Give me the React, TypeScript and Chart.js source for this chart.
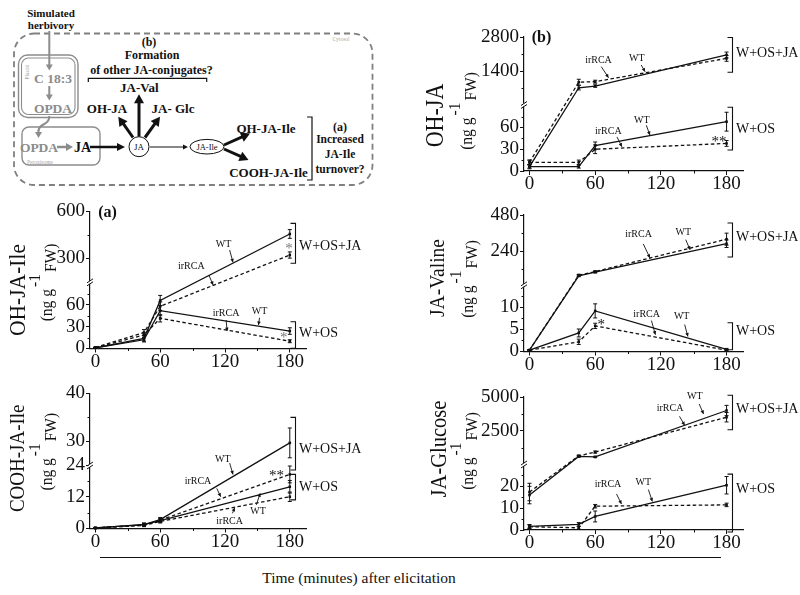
import React, { useEffect, useRef } from 'react';
import { Chart, registerables, LinearScale } from 'chart.js';

Chart.register(...registerables);

// ---------- DATA ----------
const TIMES = [0, 45, 60, 180];
const X_TICKS = [0, 60, 120, 180];
const X_MINOR = [30, 90, 150];

// OH-JA
const OHJA_WOSJA_WT = [6, 710, 780, 2060];
const OHJA_WOSJA_WT_ERR = [3, 90, 50, 120];
const OHJA_WOSJA_IR = [12, 940, 960, 1920];
const OHJA_WOSJA_IR_ERR = [3, 120, 60, 120];
const OHJA_WOS_WT = [6, 6, 35, 68];
const OHJA_WOS_WT_ERR = [2, 2, 5, 13];
const OHJA_WOS_IR = [12, 12, 30, 38];
const OHJA_WOS_IR_ERR = [3, 3, 6, 4];
const OHJA_LOW_TICKS = [0, 30, 60];
const OHJA_HIGH_TICKS = [1400, 2800];

// OH-JA-Ile
const OHJAILE_WOSJA_WT = [1, 14, 66, 456];
const OHJAILE_WOSJA_WT_ERR = [0.5, 4, 7, 28];
const OHJAILE_WOSJA_IR = [1.5, 22, 58, 321];
const OHJAILE_WOSJA_IR_ERR = [0.5, 4, 6, 20];
const OHJAILE_WOS_WT = [1, 12, 52, 24];
const OHJAILE_WOS_WT_ERR = [0.5, 3, 7, 4.5];
const OHJAILE_WOS_IR = [1, 18.6, 41.5, 10];
const OHJAILE_WOS_IR_ERR = [0.5, 3, 5, 2];
const OHJAILE_LOW_TICKS = [0, 30, 60];
const OHJAILE_HIGH_TICKS = [300, 600];

// JA-Valine
const JAVAL_WOSJA_WT = [0.3, 78, 102, 290];
const JAVAL_WOSJA_WT_ERR = [0.1, 6, 5, 25];
const JAVAL_WOSJA_IR = [0.3, 82, 106, 320];
const JAVAL_WOSJA_IR_ERR = [0.1, 6, 5, 40];
const JAVAL_WOS_WT = [0.3, 4.2, 9.2, 0.5];
const JAVAL_WOS_WT_ERR = [0.15, 0.9, 1.6, 0.2];
const JAVAL_WOS_IR = [0.3, 2.2, 5.8, 0.3];
const JAVAL_WOS_IR_ERR = [0.15, 0.6, 0.6, 0.15];
const JAVAL_LOW_TICKS = [0, 5, 10];
const JAVAL_HIGH_TICKS = [240, 480];

// COOH-JA-Ile
const COOH_WOSJA_WT = [0.2, 1.5, 3.4, 29.7];
const COOH_WOSJA_WT_ERR = [0.2, 0.6, 0.8, 3.1];
const COOH_WOSJA_IR = [0.2, 1.3, 3.2, 20.6];
const COOH_WOSJA_IR_ERR = [0.2, 0.5, 0.7, 3.2];
const COOH_WOS_WT = [0.2, 1.5, 3.0, 15.9];
const COOH_WOS_WT_ERR = [0.2, 0.5, 0.6, 2.4];
const COOH_WOS_IR = [0.2, 1.2, 2.7, 12.1];
const COOH_WOS_IR_ERR = [0.2, 0.5, 0.6, 1.8];
const COOH_LOW_TICKS = [0, 12, 24];
const COOH_HIGH_TICKS = [30, 40];

// JA-Glucose
const JAGLC_WOSJA_WT = [16, 600, 560, 4000];
const JAGLC_WOSJA_WT_ERR = [4, 60, 50, 380];
const JAGLC_WOSJA_IR = [17.4, 640, 920, 3500];
const JAGLC_WOSJA_IR_ERR = [4, 60, 80, 350];
const JAGLC_WOS_WT = [1.7, 2.6, 6.2, 20.5];
const JAGLC_WOS_WT_ERR = [0.8, 0.8, 2.5, 4];
const JAGLC_WOS_IR = [1.5, 1.0, 10.9, 11.5];
const JAGLC_WOS_IR_ERR = [0.8, 0.6, 0.8, 0.8];
const JAGLC_LOW_TICKS = [0, 10, 20];
const JAGLC_HIGH_TICKS = [2500, 5000];

// ---------- STYLE ----------
const SERIF = "'Liberation Serif', 'Times New Roman', serif";
const INK = '#111';

// ---------- Broken (two-segment) linear scale ----------
class BrokenScale extends (LinearScale as any) {
  static id = 'broken';
  static defaults = {};
  buildTicks() {
    const b = (this as any).options.brk;
    return [...b.lowTicks, ...b.highTicks].map((v: number) => ({ value: v }));
  }
  brkPixel() {
    const self = this as any;
    const b = self.options.brk;
    return self.bottom - (self.bottom - self.top) * b.frac;
  }
  getPixelForValue(value: number) {
    if (value === null || value === undefined || Number.isNaN(value)) return NaN;
    const self = this as any;
    const b = self.options.brk;
    const bp = this.brkPixel();
    if (value <= b.lowMax) return self.bottom - (value / b.lowMax) * (self.bottom - bp);
    return bp - ((value - b.highMin) / (b.highMax - b.highMin)) * (bp - self.top);
  }
  getValueForPixel(pixel: number) {
    const self = this as any;
    const b = self.options.brk;
    const bp = this.brkPixel();
    if (pixel >= bp) return ((self.bottom - pixel) / (self.bottom - bp)) * b.lowMax;
    return b.highMin + ((bp - pixel) / (bp - self.top)) * (b.highMax - b.highMin);
  }
}
Chart.register(BrokenScale as any);

type Series = { vals: number[]; errs: number[]; dashed: boolean };
type Panel = any;

const S = (vals: number[], errs: number[], dashed: boolean): Series => ({ vals, errs, dashed });

const PANELS: Panel[] = [
  {
    key: 'ohja',
    canvas: { left: 400, top: 0, w: 400, h: 195 },
    area: { l: 124, r: 343, t: 37, b: 171 },
    brk: { lowMax: 91, highMin: 0, highMax: 2800, frac: 0.4925, lowTicks: OHJA_LOW_TICKS, highTicks: OHJA_HIGH_TICKS },
    minorY: [15, 45, 75, 700, 2100],
    series: [
      S(OHJA_WOSJA_WT, OHJA_WOSJA_WT_ERR, false),
      S(OHJA_WOSJA_IR, OHJA_WOSJA_IR_ERR, true),
      S(OHJA_WOS_WT, OHJA_WOS_WT_ERR, false),
      S(OHJA_WOS_IR, OHJA_WOS_IR_ERR, true),
    ],
    title: 'OH-JA', titleSize: 22, titleX: 37, titleY: 115.5, subX: 67, subY: 111,
    letter: '(b)',
    texts: [
      { x: 63, y: 1853, t: 'irRCA' }, { x: 98, y: 1923, t: 'WT' },
      { x: 102.6, y: 70, t: 'WT' }, { x: 72, y: 54, t: 'irRCA' },
      { x: 173, y: 45, t: '**', size: 15 },
    ],
    arrows: [[65.6, 1577, 72.2, 1124], [102, 1647, 105.6, 1371], [106.7, 63, 110, 49.6], [79.9, 47, 84.4, 33.5]],
    brackets: [{ y1: 2780, y2: 1350, label: 'W+OS+JA', ly: 2130 }, { y1: 88, y2: 29, label: 'W+OS', ly: 57 }],
  },
  {
    key: 'ohjaile',
    canvas: { left: 0, top: 190, w: 400, h: 185 },
    area: { l: 90, r: 306, t: 21.5, b: 158.5 },
    brk: { lowMax: 91, highMin: 146, highMax: 600, frac: 0.483, lowTicks: OHJAILE_LOW_TICKS, highTicks: OHJAILE_HIGH_TICKS },
    minorY: [15, 45, 75, 450],
    series: [
      S(OHJAILE_WOSJA_WT, OHJAILE_WOSJA_WT_ERR, false),
      S(OHJAILE_WOSJA_IR, OHJAILE_WOSJA_IR_ERR, true),
      S(OHJAILE_WOS_WT, OHJAILE_WOS_WT_ERR, false),
      S(OHJAILE_WOS_IR, OHJAILE_WOS_IR_ERR, true),
    ],
    title: 'OH-JA-Ile', titleSize: 21.5, titleX: 18.3, titleY: 100, subX: 47, subY: 92.5,
    letter: '(a)',
    texts: [
      { x: 118.7, y: 390, t: 'WT' }, { x: 88.8, y: 246, t: 'irRCA' },
      { x: 121, y: 48.4, t: 'irRCA' }, { x: 152, y: 50.6, t: 'WT' },
      { x: 179.3, y: 381, t: '*', size: 15, color: '#777' },
      { x: 174.4, y: 18.6, t: '*', size: 15, color: '#777' },
    ],
    arrows: [[124.3, 353, 127.4, 274], [105, 193, 109, 129], [121, 39.2, 122, 24], [152, 42.3, 151, 32.3]],
    brackets: [{ y1: 524, y2: 268, label: 'W+OS+JA', ly: 374 }, { y1: 36.8, y2: 0.3, label: 'W+OS', ly: 20.9 }],
  },
  {
    key: 'javal',
    canvas: { left: 400, top: 190, w: 400, h: 185 },
    area: { l: 124, r: 343, t: 25, b: 161.5 },
    brk: { lowMax: 15, highMin: 15, highMax: 480, frac: 0.485, lowTicks: JAVAL_LOW_TICKS, highTicks: JAVAL_HIGH_TICKS },
    minorY: [2.5, 7.5, 12.5, 120, 360],
    series: [
      S(JAVAL_WOSJA_WT, JAVAL_WOSJA_WT_ERR, false),
      S(JAVAL_WOSJA_IR, JAVAL_WOSJA_IR_ERR, true),
      S(JAVAL_WOS_WT, JAVAL_WOS_WT_ERR, false),
      S(JAVAL_WOS_IR, JAVAL_WOS_IR_ERR, true),
    ],
    title: 'JA-Valine', titleSize: 19.5, titleX: 38.3, titleY: 88, subX: 68, subY: 89,
    texts: [
      { x: 99.6, y: 350, t: 'irRCA' }, { x: 140.5, y: 367, t: 'WT' },
      { x: 107, y: 8.5, t: 'irRCA' }, { x: 139, y: 8.0, t: 'WT' },
      { x: 65.6, y: 6.8, t: '*', size: 15 },
    ],
    arrows: [[104, 288, 110, 196], [142.7, 317, 146.6, 250], [111.4, 7.0, 115, 3.8], [141.7, 6.1, 144.7, 3.4]],
    brackets: [{ y1: 427, y2: 202, label: 'W+OS+JA', ly: 332 }, { y1: 6.5, y2: 0.4, label: 'W+OS', ly: 4.6 }],
  },
  {
    key: 'cooh',
    canvas: { left: 0, top: 375, w: 400, h: 180 },
    area: { l: 90, r: 306, t: 18.3, b: 153.5 },
    brk: { lowMax: 24, highMin: 25, highMax: 40, frac: 0.466, lowTicks: COOH_LOW_TICKS, highTicks: COOH_HIGH_TICKS },
    minorY: [6, 18, 35],
    series: [
      S(COOH_WOSJA_WT, COOH_WOSJA_WT_ERR, false),
      S(COOH_WOSJA_IR, COOH_WOSJA_IR_ERR, true),
      S(COOH_WOS_WT, COOH_WOS_WT_ERR, false),
      S(COOH_WOS_IR, COOH_WOS_IR_ERR, true),
    ],
    title: 'COOH-JA-Ile', titleSize: 19, titleX: 18.3, titleY: 83.3, subX: 47, subY: 76.7,
    texts: [
      { x: 118, y: 26.35, t: 'WT' }, { x: 95, y: 17.8, t: 'irRCA' },
      { x: 150.6, y: 6.4, t: 'WT' }, { x: 124.3, y: 2.9, t: 'irRCA' },
      { x: 167.6, y: 21.4, t: '**', size: 15 },
    ],
    arrows: [[124.3, 25.5, 127.4, 20.6], [112.4, 15.3, 116, 12.1], [149, 9.0, 152.6, 13.4], [126.9, 5.8, 129, 7.9]],
    brackets: [{ y1: 35, y2: 22.3, label: 'W+OS+JA', ly: 28.4 }, { y1: 20.6, y2: 10.9, label: 'W+OS', ly: 15.6 }],
  },
  {
    key: 'jaglc',
    canvas: { left: 400, top: 375, w: 400, h: 180 },
    area: { l: 124, r: 343, t: 22, b: 155 },
    brk: { lowMax: 30, highMin: 0, highMax: 5000, frac: 0.4925, lowTicks: JAGLC_LOW_TICKS, highTicks: JAGLC_HIGH_TICKS },
    minorY: [5, 15, 25, 1250, 3750],
    series: [
      S(JAGLC_WOSJA_WT, JAGLC_WOSJA_WT_ERR, false),
      S(JAGLC_WOSJA_IR, JAGLC_WOSJA_IR_ERR, true),
      S(JAGLC_WOS_WT, JAGLC_WOS_WT_ERR, false),
      S(JAGLC_WOS_IR, JAGLC_WOS_IR_ERR, true),
    ],
    title: 'JA-Glucose', titleSize: 20.5, titleX: 40, titleY: 74, subX: 68, subY: 76,
    texts: [
      { x: 128.4, y: 4185, t: 'irRCA' }, { x: 151, y: 5052, t: 'WT' },
      { x: 71.7, y: 20.8, t: 'irRCA' }, { x: 104, y: 22, t: 'WT' },
    ],
    arrows: [[137, 3570, 141.7, 2904], [155, 4481, 159, 3741], [79.5, 16.5, 84, 11.9], [108.6, 18.5, 112.2, 13.1]],
    brackets: [{ y1: 5126, y2: 2578, label: 'W+OS+JA', ly: 4059 }, { y1: 25.6, y2: -0.9, label: 'W+OS', ly: 18.5 }],
  },
];

// ---------- drawing helpers ----------
function arrowHead(ctx: CanvasRenderingContext2D, x1: number, y1: number, x2: number, y2: number, len: number, half: number) {
  const dx = x2 - x1, dy = y2 - y1, L = Math.hypot(dx, dy) || 1;
  const ux = dx / L, uy = dy / L, px = -uy, py = ux;
  const bx = x2 - ux * len, by = y2 - uy * len;
  ctx.beginPath();
  ctx.moveTo(x2, y2);
  ctx.lineTo(bx + px * half, by + py * half);
  ctx.lineTo(bx - px * half, by - py * half);
  ctx.closePath();
  ctx.fill();
}

// rotated unit label "(ng g -1 FW)"; offsets given directly in page x (negative = further left)
function drawSub(ctx: CanvasRenderingContext2D, cx: number, cy: number, size: number) {
  ctx.save();
  ctx.font = `${size}px ${SERIF}`;
  ctx.fillStyle = INK;
  ctx.textAlign = 'center';
  ctx.textBaseline = 'middle';
  const segs: [string, number][] = [['(ng g', 0], ['-1', -12], ['FW)', 4]];
  const gap = 2;
  const widths = segs.map((s) => ctx.measureText(s[0]).width);
  const total = widths.reduce((a, b) => a + b, 0) + gap * (segs.length - 1);
  let yb = cy + total / 2;
  segs.forEach((s, i) => {
    const yc = yb - widths[i] / 2;
    ctx.save();
    ctx.translate(cx + s[1], yc);
    ctx.rotate(-Math.PI / 2);
    ctx.scale(1, 1.12);
    ctx.fillText(s[0], 0, 0);
    ctx.restore();
    yb -= widths[i] + gap;
  });
  ctx.restore();
}

function makeDecor(p: Panel) {
  return {
    id: 'decor_' + p.key,
    afterDatasetsDraw(chart: any) {
      const ctx: CanvasRenderingContext2D = chart.ctx;
      const xs = chart.scales.x, ys = chart.scales.y;
      ctx.save();
      ctx.strokeStyle = INK;
      ctx.lineWidth = 1;
      p.series.forEach((s: Series) => {
        TIMES.forEach((t, i) => {
          const v = s.vals[i], e = s.errs[i];
          if (v == null || !e) return;
          const px = xs.getPixelForValue(t);
          const y1 = ys.getPixelForValue(v - e), y2 = ys.getPixelForValue(v + e);
          ctx.beginPath();
          ctx.moveTo(px, y1); ctx.lineTo(px, y2);
          ctx.moveTo(px - 2, y1); ctx.lineTo(px + 2, y1);
          ctx.moveTo(px - 2, y2); ctx.lineTo(px + 2, y2);
          ctx.stroke();
        });
      });
      ctx.restore();
    },
    afterDraw(chart: any) {
      const ctx: CanvasRenderingContext2D = chart.ctx;
      const xs = chart.scales.x, ys = chart.scales.y;
      const ca = chart.chartArea;
      ctx.save();
      ctx.strokeStyle = INK;
      ctx.fillStyle = INK;
      ctx.lineWidth = 1;
      // minor ticks
      ctx.beginPath();
      X_MINOR.forEach((t) => {
        const px = Math.round(xs.getPixelForValue(t)) + 0.5;
        ctx.moveTo(px, ca.bottom); ctx.lineTo(px, ca.bottom + 2.5);
      });
      p.minorY.forEach((v: number) => {
        const py = Math.round(ys.getPixelForValue(v)) + 0.5;
        ctx.moveTo(ca.left, py); ctx.lineTo(ca.left - 2.5, py);
      });
      ctx.stroke();
      // axis break mark
      const by = ys.getPixelForValue(p.brk.lowMax);
      ctx.fillStyle = '#fff';
      ctx.fillRect(ca.left - 1.5, by - 1.5, 3, 3);
      ctx.beginPath();
      ctx.moveTo(ca.left - 3, by + 0.5); ctx.lineTo(ca.left + 3, by - 3.5);
      ctx.moveTo(ca.left - 3, by + 3.5); ctx.lineTo(ca.left + 3, by - 0.5);
      ctx.stroke();
      ctx.fillStyle = INK;
      // y titles
      ctx.save();
      ctx.translate(p.titleX, p.titleY);
      ctx.rotate(-Math.PI / 2);
      ctx.scale(1, 1.12);
      ctx.font = `${p.titleSize}px ${SERIF}`;
      ctx.textAlign = 'center';
      ctx.textBaseline = 'middle';
      ctx.fillText(p.title, 0, 0);
      ctx.restore();
      drawSub(ctx, p.subX, p.subY, 15.5);
      // panel letter
      if (p.letter) {
        ctx.font = `bold 16px ${SERIF}`;
        ctx.textAlign = 'center';
        ctx.textBaseline = 'middle';
        ctx.fillText(p.letter, ca.left + 17.5, ca.top + 1);
      }
      // labels
      p.texts.forEach((tx: any) => {
        const size = tx.size || 10;
        ctx.font = `${size}px ${SERIF}`;
        ctx.textAlign = 'center';
        ctx.textBaseline = 'middle';
        ctx.fillStyle = tx.color || INK;
        const off = tx.t.includes('*') ? size * 0.22 : 0;
        ctx.fillText(tx.t, xs.getPixelForValue(tx.x), ys.getPixelForValue(tx.y) + off);
      });
      ctx.fillStyle = INK;
      // arrows
      ctx.lineWidth = 0.9;
      p.arrows.forEach((a: number[]) => {
        const x1 = xs.getPixelForValue(a[0]), y1 = ys.getPixelForValue(a[1]);
        const x2 = xs.getPixelForValue(a[2]), y2 = ys.getPixelForValue(a[3]);
        ctx.beginPath(); ctx.moveTo(x1, y1); ctx.lineTo(x2, y2); ctx.stroke();
        arrowHead(ctx, x1, y1, x2, y2, 3.5, 1.8);
      });
      // brackets
      ctx.lineWidth = 1.1;
      p.brackets.forEach((b: any) => {
        const bx = Math.round(xs.getPixelForValue(185)) + 0.5;
        const y1 = ys.getPixelForValue(b.y1), y2 = ys.getPixelForValue(b.y2);
        ctx.beginPath();
        ctx.moveTo(bx - 5, y1); ctx.lineTo(bx, y1); ctx.lineTo(bx, y2); ctx.lineTo(bx - 5, y2);
        ctx.stroke();
        ctx.font = `14px ${SERIF}`;
        ctx.textAlign = 'left';
        ctx.textBaseline = 'middle';
        ctx.fillText(b.label, bx + 3.5, ys.getPixelForValue(b.ly));
      });
      ctx.restore();
    },
  };
}

function buildConfig(p: Panel): any {
  const { w, h } = p.canvas;
  const a = p.area;
  const axisFont = { family: SERIF, size: 19 };
  const grid = { display: true, drawOnChartArea: false, drawTicks: true, tickLength: 4, color: INK, lineWidth: 1 };
  const border = { display: true, color: INK, width: 1.2 };
  return {
    type: 'line',
    data: {
      datasets: p.series.map((s: Series) => ({
        data: TIMES.map((t, i) => ({ x: t, y: s.vals[i] })),
        borderColor: INK,
        borderWidth: 1.3,
        borderDash: s.dashed ? [3.5, 2.5] : [],
        pointRadius: 1.8,
        pointStyle: 'rect',
        pointBackgroundColor: INK,
        pointBorderWidth: 0,
        fill: false,
        tension: 0,
        clip: false,
      })),
    },
    options: {
      responsive: false,
      animation: false,
      devicePixelRatio: 1,
      events: [],
      layout: { padding: { left: 0, top: a.t, right: w - a.r, bottom: 0 } },
      plugins: { legend: { display: false }, tooltip: { enabled: false }, title: { display: false } },
      scales: {
        x: {
          type: 'linear',
          min: -5,
          max: 195,
          afterBuildTicks: (s: any) => { s.ticks = X_TICKS.map((v) => ({ value: v })); },
          afterFit: (s: any) => { s.height = h - a.b; },
          grid,
          border,
          ticks: { autoSkip: false, maxRotation: 0, padding: -2, color: INK, font: axisFont, callback: (v: any) => String(v) },
        },
        y: {
          type: 'broken',
          min: 0,
          max: p.brk.highMax,
          brk: p.brk,
          afterFit: (s: any) => { s.width = a.l; },
          grid,
          border,
          ticks: { autoSkip: false, padding: 1, color: INK, font: axisFont, callback: (v: any) => String(v) },
        },
      },
    },
    plugins: [makeDecor(p)],
  };
}

function PanelChart({ p }: { p: Panel }) {
  const ref = useRef<HTMLCanvasElement>(null);
  useEffect(() => {
    const chart = new Chart(ref.current as HTMLCanvasElement, buildConfig(p));
    return () => chart.destroy();
  }, [p]);
  return (
    <canvas
      ref={ref}
      width={p.canvas.w}
      height={p.canvas.h}
      style={{ position: 'absolute', left: p.canvas.left, top: p.canvas.top, width: p.canvas.w, height: p.canvas.h }}
    />
  );
}

// ---------- schematic ----------
function Arrow({ x1, y1, x2, y2, w = 2.5, color = INK, hl = 8, hw = 4.5 }: any) {
  const dx = x2 - x1, dy = y2 - y1, L = Math.hypot(dx, dy);
  const ux = dx / L, uy = dy / L, px = -uy, py = ux;
  const bx = x2 - ux * hl, by = y2 - uy * hl;
  return (
    <g>
      <line x1={x1} y1={y1} x2={bx + ux} y2={by + uy} stroke={color} strokeWidth={w} />
      <polygon points={`${x2},${y2} ${bx + px * hw},${by + py * hw} ${bx - px * hw},${by - py * hw}`} fill={color} />
    </g>
  );
}

function T({ x, y, s, children, fill = INK, bold = true, anchor = 'middle' }: any) {
  return (
    <text x={x} y={y} fontSize={s} fill={fill} fontFamily={SERIF} fontWeight={bold ? 700 : 400} textAnchor={anchor} dominantBaseline="central">
      {children}
    </text>
  );
}

function Figure() {
  const G = '#8c8c8c';
  const LG = '#a8a8a8';
  return (
    <svg width={800} height={595} style={{ position: 'absolute', left: 0, top: 0 }}>
      <T x={51} y={12.7} s={11}>Simulated</T>
      <T x={51} y={25} s={11}>herbivory</T>
      <rect x={14} y={33.5} width={358.5} height={151.5} rx={20} fill="none" stroke="#808080" strokeWidth={1.8} strokeDasharray="6 4" />
      <T x={341} y={39} s={5.5} fill={LG} bold={false}>Cytosol</T>
      {/* plastid */}
      <rect x={18.5} y={55} width={59.5} height={62.5} rx={9} fill="none" stroke={G} strokeWidth={1.4} />
      <rect x={21.5} y={58} width={53.5} height={56.5} rx={7} fill="none" stroke={G} strokeWidth={1.1} />
      <text transform="translate(26.5,72) rotate(-90)" fontSize={5.5} fill={LG} fontFamily={SERIF} textAnchor="middle" dominantBaseline="central">Plastid</text>
      <T x={53} y={78.5} s={13.5} fill={G}>C 18:3</T>
      <T x={53} y={108.5} s={13.5} fill={G}>OPDA</T>
      <Arrow x1={49.3} y1={31} x2={49.3} y2={70.5} w={2} color={G} hl={6} hw={3.5} />
      <Arrow x1={49.3} y1={86} x2={49.3} y2={100.5} w={2} color={G} hl={6} hw={3.5} />
      <path d="M49.3 116 C49.3 126 38.5 123 38.5 131" fill="none" stroke={G} strokeWidth={2} />
      <Arrow x1={38.5} y1={130} x2={38.5} y2={138} w={2} color={G} hl={6} hw={3.5} />
      {/* peroxisome */}
      <rect x={22} y={127} width={78} height={38} rx={7} fill="none" stroke={G} strokeWidth={1.4} />
      <T x={27} y={162} s={5.5} fill={LG} bold={false} anchor="start">Peroxisome</T>
      <T x={39} y={147} s={13.5} fill={G}>OPDA</T>
      <Arrow x1={57} y1={147} x2={73} y2={147} w={2.5} color={G} hl={7} hw={4} />
      <T x={82.5} y={147} s={14}>JA</T>
      <Arrow x1={90} y1={147} x2={125} y2={147} w={2.5} hl={8} hw={4} />
      {/* JA circle */}
      <circle cx={139} cy={146.7} r={10} fill="#fff" stroke={INK} strokeWidth={1} />
      <T x={139} y={147} s={9} bold={false}>JA</T>
      <Arrow x1={150} y1={147} x2={188} y2={147} w={1} hl={5} hw={2.5} />
      <ellipse cx={207} cy={146.7} rx={17} ry={7.3} fill="#fff" stroke={INK} strokeWidth={1} />
      <T x={207} y={147} s={8.5} bold={false}>JA-Ile</T>
      <Arrow x1={224} y1={145} x2={250} y2={133.5} w={3} hl={9} hw={5} />
      <Arrow x1={224} y1={149} x2={248.5} y2={160} w={3} hl={9} hw={5} />
      <T x={266} y={128} s={13}>OH-JA-Ile</T>
      <T x={268.5} y={172} s={13}>COOH-JA-Ile</T>
      <path d="M307 117 H312 V180 H307" fill="none" stroke={INK} strokeWidth={1.2} />
      <T x={340} y={126.7} s={12}>(a)</T>
      <T x={340} y={138.5} s={11.5}>Increased</T>
      <T x={340} y={153.7} s={11.5}>JA-Ile</T>
      <T x={340} y={168.5} s={11.5}>turnover?</T>
      {/* JA conjugates */}
      <Arrow x1={133} y1={137.5} x2={118.3} y2={116.7} w={3} hl={9} hw={5} />
      <Arrow x1={139} y1={136.5} x2={139} y2={94.3} w={3} hl={9} hw={5} />
      <Arrow x1={145} y1={137.5} x2={160} y2={116.7} w={3} hl={9} hw={5} />
      <T x={107} y={108.3} s={13}>OH-JA</T>
      <T x={139.3} y={87.3} s={13}>JA-Val</T>
      <T x={173} y={108.3} s={13}>JA- Glc</T>
      <path d="M88.3 82 V78.3 H206.7 V82" fill="none" stroke={INK} strokeWidth={1.2} />
      <T x={149} y={41.7} s={12}>(b)</T>
      <T x={152} y={55} s={12}>Formation</T>
      <T x={151.5} y={70} s={12}>of other  JA-conjugates?</T>
      {/* shared x-axis title */}
      <line x1={100} y1={557.5} x2={721} y2={557.5} stroke={INK} strokeWidth={1.2} />
      <T x={359} y={577.5} s={15.5} bold={false}>Time (minutes) after elicitation</T>
    </svg>
  );
}

export default function App() {
  return (
    <div style={{ position: 'absolute', left: 0, top: 0, width: 800, height: 595, background: '#fff', overflow: 'hidden' }}>
      <Figure />
      {PANELS.map((p) => (
        <PanelChart key={p.key} p={p} />
      ))}
    </div>
  );
}
